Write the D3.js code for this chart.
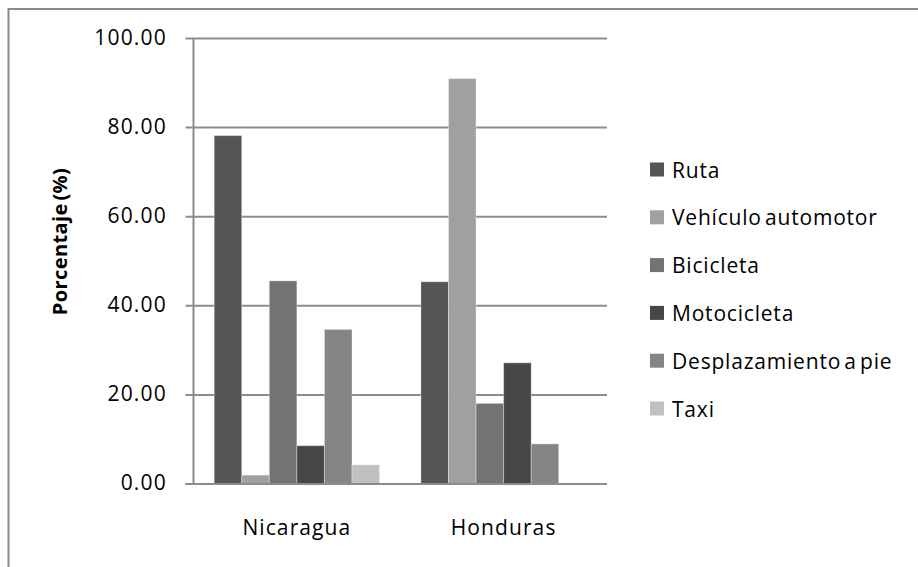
<!DOCTYPE html>
<html><head><meta charset="utf-8">
<script src="https://cdn.jsdelivr.net/npm/d3@7"></script>
<style>body{margin:0;background:#fff}svg{display:block}text{font-family:"Open Sans",sans-serif;fill:#000}</style>
</head><body>
<script>
const categories = ["Nicaragua", "Honduras"];
const seriesNames = ["Ruta", "Vehículo automotor", "Bicicleta", "Motocicleta", "Desplazamiento a pie", "Taxi"];
const ruta = [78.2, 45.4];
const vehiculo = [2.0, 91.0];
const bicicleta = [45.6, 18.1];
const motocicleta = [8.6, 27.2];
const desplazamiento = [34.7, 9.0];
const taxi = [4.3, 0];
const seriesColors = ["#555555", "#a0a0a0", "#737373", "#474747", "#858585", "#c0c0c0"];
const yTicks = [0, 20, 40, 60, 80, 100];
const yTitle = "Porcentaje (%)";

const seriesValues = [ruta, vehiculo, bicicleta, motocicleta, desplazamiento, taxi];

const W = 918, H = 567;
const svg = d3.select("body").append("svg").attr("width", W).attr("height", H);

// chart frame (top and left edges visible)
svg.append("line").attr("x1", 8.5).attr("x2", W).attr("y1", 9).attr("y2", 9).attr("stroke", "#8a8a8a").attr("stroke-width", 2);
svg.append("line").attr("x1", 8.5).attr("x2", 8.5).attr("y1", 8).attr("y2", H).attr("stroke", "#8a8a8a").attr("stroke-width", 2);

const plot = {left: 193.5, right: 607, top: 38.5, bottom: 484};
const x0 = d3.scaleBand().domain(categories).range([plot.left, plot.right]).paddingInner(0).paddingOuter(0);
const y = d3.scaleLinear().domain([0, 100]).range([plot.bottom, plot.top]);
const groupPad = 0.1;
const x1 = d3.scaleBand().domain(d3.range(seriesNames.length))
  .range([x0.bandwidth() * groupPad, x0.bandwidth() * (1 - groupPad)]).padding(0);

// gridlines
svg.append("g").selectAll("line").data(yTicks).join("line")
  .attr("x1", plot.left - 8).attr("x2", plot.right)
  .attr("y1", d => y(d)).attr("y2", d => y(d))
  .attr("stroke", "#8c8c8c").attr("stroke-width", 2);

// bars
const groups = svg.append("g").selectAll("g").data(categories).join("g")
  .attr("transform", c => `translate(${x0(c)},0)`);
groups.selectAll("rect").data((c, ci) => seriesValues.map((vals, si) => ({si, v: vals[ci]})))
  .join("rect")
  .attr("x", d => x1(d.si)).attr("width", x1.bandwidth())
  .attr("y", d => y(d.v)).attr("height", d => plot.bottom - y(d.v))
  .attr("fill", d => seriesColors[d.si])
  .attr("stroke", d => d.v > 0 ? "rgba(255,255,255,0.35)" : "none").attr("stroke-width", 1);

// y axis line
svg.append("line").attr("x1", plot.left).attr("x2", plot.left).attr("y1", plot.top).attr("y2", plot.bottom + 1)
  .attr("stroke", "#8c8c8c").attr("stroke-width", 2);
// baseline
svg.append("line").attr("x1", plot.left - 8).attr("x2", plot.right).attr("y1", plot.bottom).attr("y2", plot.bottom)
  .attr("stroke", "#8c8c8c").attr("stroke-width", 2);

// y tick labels
svg.append("g").selectAll("text").data(yTicks).join("text")
  .attr("x", 167).attr("y", d => y(d) - 2)
  .attr("text-anchor", "end").attr("dominant-baseline", "central")
  .style("font-size", "21px").style("letter-spacing", "1.2px")
  .text(d => d3.format(".2f")(d));

// x labels
svg.append("g").selectAll("text").data(categories).join("text")
  .attr("x", c => x0(c) + x0.bandwidth() / 2).attr("y", 535)
  .attr("text-anchor", "middle").style("font-size", "21px").style("letter-spacing", "1.1px")
  .text(c => c);

// y title
svg.append("text").attr("transform", "translate(67,241.5) rotate(-90)")
  .attr("text-anchor", "middle").style("font-size", "20px").style("font-weight", "bold")
  .style("letter-spacing", "0.4px").style("word-spacing", "-3px")
  .text(yTitle);

// legend
const lg = svg.append("g").selectAll("g").data(seriesNames).join("g")
  .attr("transform", (d, i) => `translate(650,${169.5 + i * 47.8})`);
lg.append("rect").attr("x", 0).attr("y", -7).attr("width", 14).attr("height", 14)
  .attr("fill", (d, i) => seriesColors[i]);
lg.append("text").attr("x", 22).attr("y", 0).attr("dominant-baseline", "central")
  .style("font-size", "21px").style("letter-spacing", "0.8px").style("word-spacing", "-3px").text(d => d);
</script>
</body></html>
